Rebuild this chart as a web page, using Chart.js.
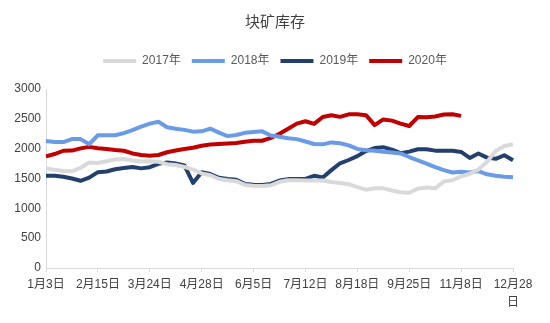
<!DOCTYPE html>
<html>
<head>
<meta charset="utf-8">
<script src="https://cdn.jsdelivr.net/npm/chart.js@4.4.0/dist/chart.umd.min.js"></script>
<style>
  html, body { margin: 0; padding: 0; background: #fff; }
  #wrap { width: 550px; height: 323px; position: relative; }
</style>
</head>
<body>
<div id="wrap"><canvas id="stockChart"></canvas></div>
<script>
// x labels shown every 6th point
const tickLabels = ['1月3日', '2月15日', '3月24日', '4月28日', '6月5日', '7月12日', '8月18日', '9月25日', '11月8日', '12月28日'];
const labelStep = 6;
const seriesNames = ['2017年', '2018年', '2019年', '2020年'];
const seriesColors = ['#d9d9d9', '#6b9be6', '#223f6e', '#c00000'];

const y2017 = [1670, 1645, 1625, 1620, 1680, 1770, 1760, 1790, 1820, 1828,
               1800, 1785, 1790, 1780, 1740, 1725, 1695, 1650, 1585, 1555,
               1492, 1470, 1455, 1392, 1380, 1375, 1385, 1445, 1470, 1470,
               1467, 1467, 1467, 1440, 1425, 1405, 1355, 1313, 1335, 1335,
               1300, 1270, 1260, 1330, 1350, 1335, 1450, 1470, 1535, 1580,
               1650, 1780, 1960, 2045, 2072];
const y2018 = [2130, 2110, 2110, 2160, 2160, 2075, 2225, 2225, 2225, 2260,
               2310, 2370, 2420, 2450, 2360, 2335, 2315, 2285, 2290, 2335,
               2270, 2210, 2230, 2265, 2280, 2290, 2220, 2200, 2175, 2160,
               2120, 2078, 2072, 2105, 2090, 2055, 1995, 1975, 1965, 1950,
               1935, 1920, 1860, 1805, 1750, 1690, 1640, 1600, 1615, 1600,
               1625, 1570, 1545, 1530, 1520];
const y2019 = [1545, 1545, 1530, 1500, 1462, 1515, 1606, 1617, 1655, 1675,
               1692, 1670, 1690, 1745, 1770, 1750, 1720, 1425, 1605, 1575,
               1512, 1490, 1478, 1410, 1395, 1390, 1410, 1465, 1490, 1490,
               1492, 1545, 1517, 1640, 1755, 1810, 1875, 1960, 2010, 2025,
               1985, 1925, 1950, 1990, 1990, 1967, 1967, 1965, 1945, 1845,
               1920, 1850, 1830, 1890, 1805];
const y2020 = [1870, 1910, 1965, 1968, 2005, 2030, 2008, 1995, 1978, 1965,
               1920, 1895, 1883, 1894, 1940, 1970, 1995, 2015, 2050, 2070,
               2078, 2085, 2095, 2115, 2132, 2133, 2180, 2250, 2335, 2420,
               2460, 2415, 2530, 2560, 2533, 2575, 2575, 2562, 2395, 2490,
               2470, 2420, 2380, 2530, 2525, 2540, 2572, 2578, 2550];

const categories = y2018.map((v, i) => (i % labelStep === 0 ? tickLabels[i / labelStep] : ''));
const allSeries = [y2017, y2018, y2019, y2020];

const fontFamily = '"Liberation Sans", "Noto Sans CJK SC", sans-serif';

// empty layout boxes: gap under the legend, margin right of the plot
function makeSpacer(position, size) {
  return {
    position: position,
    weight: 0,
    fullSize: position === 'top',
    options: {},
    isHorizontal() { return position === 'top' || position === 'bottom'; },
    update(maxWidth, maxHeight) {
      if (this.isHorizontal()) { this.width = maxWidth; this.height = size; }
      else { this.width = size; this.height = maxHeight; }
    },
    draw() {}
  };
}
const spacer = {
  id: 'spacer',
  beforeInit(chart) {
    Chart.layouts.addBox(chart, makeSpacer('top', 12));
    Chart.layouts.addBox(chart, makeSpacer('right', 37));
  }
};

new Chart(document.getElementById('stockChart'), {
  type: 'line',
  data: {
    labels: categories,
    datasets: allSeries.map((values, k) => ({
      label: seriesNames[k],
      data: values,
      borderColor: seriesColors[k],
      backgroundColor: seriesColors[k],
      borderWidth: 4,
      borderJoinStyle: 'round',
      pointRadius: 0,
      tension: 0,
      fill: false
    }))
  },
  plugins: [spacer],
  options: {
    responsive: true,
    maintainAspectRatio: false,
    animation: false,
    layout: { padding: { left: 0, right: 0, bottom: 7 } },
    plugins: {
      title: {
        display: true,
        text: '块矿库存',
        color: '#404040',
        font: { family: fontFamily, size: 15, weight: 'normal' },
        padding: { top: 14, bottom: 12 }
      },
      legend: {
        display: true,
        labels: {
          color: '#595959',
          font: { family: fontFamily, size: 12 },
          boxWidth: 33,
          boxHeight: 4,
          padding: 11,
          generateLabels(chart) {
            const items = Chart.defaults.plugins.legend.labels.generateLabels(chart);
            items.forEach(it => { it.lineWidth = 0; });
            return items;
          }
        }
      },
      tooltip: { enabled: false }
    },
    scales: {
      x: {
        type: 'category',
        offset: false,
        grid: {
          drawOnChartArea: false,
          drawTicks: true,
          tickLength: 4,
          color: ctx => (ctx.index % labelStep === 0 ? '#d9d9d9' : 'rgba(0,0,0,0)')
        },
        border: { display: true, color: '#d9d9d9', width: 1 },
        ticks: {
          autoSkip: false,
          maxRotation: 0,
          minRotation: 0,
          padding: 4,
          color: '#404040',
          font: { family: fontFamily, size: 12, lineHeight: 1.5 },
          callback(value, index) {
            const lbl = categories[index];
            return lbl.length > 5 ? [lbl.slice(0, -1), lbl.slice(-1)] : lbl;
          }
        }
      },
      y: {
        min: 0,
        max: 3000,
        afterFit(scale) { scale.width = 46; },
        grid: { display: false, drawTicks: false },
        border: { display: true, color: '#d9d9d9', width: 1 },
        ticks: {
          stepSize: 500,
          padding: 5,
          color: '#404040',
          font: { family: fontFamily, size: 12 },
          callback: v => String(v)
        }
      }
    }
  }
});
</script>
</body>
</html>
